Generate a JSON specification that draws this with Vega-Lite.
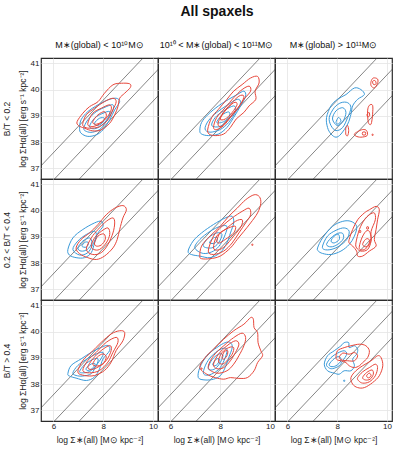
{
"$schema":"https://vega.github.io/schema/vega-lite/v6.json",
"padding":{"left":1,"top":5,"right":5,"bottom":4},
"title":{"text":"All spaxels","fontSize":14,"fontWeight":"bold","anchor":"middle","frame":"bounds","dx":20,"offset":21,"color":"#111"},
"datasets":{
"diag":[{"k":1,"x":4.5,"y":36.1},{"k":1,"x":10.5,"y":42.1},{"k":2,"x":5.5,"y":36.06},{"k":2,"x":11,"y":41.56},{"k":3,"x":6.5,"y":36.06},{"k":3,"x":12,"y":41.56}],
"cnt":[{"p":"TL","n":"105"},{"p":"TM","n":"91"},{"p":"TR","n":"8"},{"p":"ML","n":"86"},{"p":"MM","n":"109"},{"p":"MR","n":"43"},{"p":"BL","n":"140"},{"p":"BM","n":"302"},{"p":"BR","n":"153"}],
"cont":[
{"p":"TL","g":"b1","s":"b","x":7.05,"y":38.53},{"p":"TL","g":"b1","s":"b","x":7.11,"y":38.85},{"p":"TL","g":"b1","s":"b","x":7.38,"y":39.16},{"p":"TL","g":"b1","s":"b","x":7.79,"y":39.42},{"p":"TL","g":"b1","s":"b","x":8.19,"y":39.61},{"p":"TL","g":"b1","s":"b","x":8.52,"y":39.67},{"p":"TL","g":"b1","s":"b","x":8.66,"y":39.54},{"p":"TL","g":"b1","s":"b","x":8.46,"y":39.23},{"p":"TL","g":"b1","s":"b","x":8.26,"y":38.85},{"p":"TL","g":"b1","s":"b","x":7.99,"y":38.47},{"p":"TL","g":"b1","s":"b","x":7.72,"y":38.28},{"p":"TL","g":"b1","s":"b","x":7.38,"y":38.22},{"p":"TL","g":"b1","s":"b","x":7.11,"y":38.34},
{"p":"TL","g":"b2","s":"b","x":7.22,"y":38.53},{"p":"TL","g":"b2","s":"b","x":7.38,"y":38.85},{"p":"TL","g":"b2","s":"b","x":7.72,"y":39.16},{"p":"TL","g":"b2","s":"b","x":8.12,"y":39.35},{"p":"TL","g":"b2","s":"b","x":8.39,"y":39.42},{"p":"TL","g":"b2","s":"b","x":8.39,"y":39.23},{"p":"TL","g":"b2","s":"b","x":8.19,"y":38.91},{"p":"TL","g":"b2","s":"b","x":7.92,"y":38.53},{"p":"TL","g":"b2","s":"b","x":7.58,"y":38.38},{"p":"TL","g":"b2","s":"b","x":7.32,"y":38.41},
{"p":"TL","g":"b3","s":"b","x":7.45,"y":38.59},{"p":"TL","g":"b3","s":"b","x":7.65,"y":38.91},{"p":"TL","g":"b3","s":"b","x":7.99,"y":39.10},{"p":"TL","g":"b3","s":"b","x":8.26,"y":39.16},{"p":"TL","g":"b3","s":"b","x":8.19,"y":38.91},{"p":"TL","g":"b3","s":"b","x":7.92,"y":38.63},{"p":"TL","g":"b3","s":"b","x":7.65,"y":38.51},
{"p":"TL","g":"b4","s":"b","x":7.65,"y":38.72},{"p":"TL","g":"b4","s":"b","x":7.85,"y":38.91},{"p":"TL","g":"b4","s":"b","x":8.05,"y":38.91},{"p":"TL","g":"b4","s":"b","x":7.95,"y":38.72},{"p":"TL","g":"b4","s":"b","x":7.76,"y":38.63},
{"p":"TL","g":"r1","s":"r","x":6.95,"y":38.78},{"p":"TL","g":"r1","s":"r","x":7.18,"y":39.10},{"p":"TL","g":"r1","s":"r","x":7.45,"y":39.35},{"p":"TL","g":"r1","s":"r","x":7.79,"y":39.54},{"p":"TL","g":"r1","s":"r","x":8.05,"y":39.86},{"p":"TL","g":"r1","s":"r","x":8.39,"y":40.18},{"p":"TL","g":"r1","s":"r","x":8.73,"y":40.24},{"p":"TL","g":"r1","s":"r","x":9.06,"y":40.22},{"p":"TL","g":"r1","s":"r","x":9.09,"y":40.08},{"p":"TL","g":"r1","s":"r","x":8.86,"y":39.86},{"p":"TL","g":"r1","s":"r","x":8.66,"y":39.67},{"p":"TL","g":"r1","s":"r","x":8.59,"y":39.35},{"p":"TL","g":"r1","s":"r","x":8.46,"y":39.04},{"p":"TL","g":"r1","s":"r","x":8.26,"y":38.72},{"p":"TL","g":"r1","s":"r","x":7.92,"y":38.47},{"p":"TL","g":"r1","s":"r","x":7.58,"y":38.43},{"p":"TL","g":"r1","s":"r","x":7.25,"y":38.53},{"p":"TL","g":"r1","s":"r","x":7.01,"y":38.63},
{"p":"TL","g":"r2","s":"r","x":7.18,"y":38.72},{"p":"TL","g":"r2","s":"r","x":7.32,"y":39.04},{"p":"TL","g":"r2","s":"r","x":7.65,"y":39.29},{"p":"TL","g":"r2","s":"r","x":8.05,"y":39.54},{"p":"TL","g":"r2","s":"r","x":8.39,"y":39.67},{"p":"TL","g":"r2","s":"r","x":8.52,"y":39.54},{"p":"TL","g":"r2","s":"r","x":8.39,"y":39.23},{"p":"TL","g":"r2","s":"r","x":8.19,"y":38.85},{"p":"TL","g":"r2","s":"r","x":7.85,"y":38.59},{"p":"TL","g":"r2","s":"r","x":7.45,"y":38.53},{"p":"TL","g":"r2","s":"r","x":7.22,"y":38.59},
{"p":"TL","g":"r3","s":"r","x":7.38,"y":38.72},{"p":"TL","g":"r3","s":"r","x":7.58,"y":39.10},{"p":"TL","g":"r3","s":"r","x":7.92,"y":39.29},{"p":"TL","g":"r3","s":"r","x":8.26,"y":39.42},{"p":"TL","g":"r3","s":"r","x":8.32,"y":39.23},{"p":"TL","g":"r3","s":"r","x":8.12,"y":38.91},{"p":"TL","g":"r3","s":"r","x":7.79,"y":38.66},{"p":"TL","g":"r3","s":"r","x":7.49,"y":38.59},
{"p":"TL","g":"r4","s":"r","x":7.58,"y":38.78},{"p":"TL","g":"r4","s":"r","x":7.79,"y":39.04},{"p":"TL","g":"r4","s":"r","x":8.05,"y":39.16},{"p":"TL","g":"r4","s":"r","x":8.12,"y":38.97},{"p":"TL","g":"r4","s":"r","x":7.92,"y":38.76},{"p":"TL","g":"r4","s":"r","x":7.68,"y":38.68},

{"p":"TM","g":"b1","s":"b","x":7.18,"y":38.44},{"p":"TM","g":"b1","s":"b","x":7.25,"y":38.75},{"p":"TM","g":"b1","s":"b","x":7.52,"y":39.06},{"p":"TM","g":"b1","s":"b","x":7.93,"y":39.38},{"p":"TM","g":"b1","s":"b","x":8.34,"y":39.63},{"p":"TM","g":"b1","s":"b","x":8.68,"y":39.81},{"p":"TM","g":"b1","s":"b","x":8.95,"y":39.94},{"p":"TM","g":"b1","s":"b","x":9.02,"y":39.75},{"p":"TM","g":"b1","s":"b","x":8.82,"y":39.38},{"p":"TM","g":"b1","s":"b","x":8.54,"y":38.94},{"p":"TM","g":"b1","s":"b","x":8.27,"y":38.56},{"p":"TM","g":"b1","s":"b","x":7.93,"y":38.31},{"p":"TM","g":"b1","s":"b","x":7.52,"y":38.25},{"p":"TM","g":"b1","s":"b","x":7.25,"y":38.31},
{"p":"TM","g":"b2","s":"b","x":7.39,"y":38.50},{"p":"TM","g":"b2","s":"b","x":7.52,"y":38.81},{"p":"TM","g":"b2","s":"b","x":7.86,"y":39.13},{"p":"TM","g":"b2","s":"b","x":8.27,"y":39.40},{"p":"TM","g":"b2","s":"b","x":8.68,"y":39.63},{"p":"TM","g":"b2","s":"b","x":8.82,"y":39.50},{"p":"TM","g":"b2","s":"b","x":8.61,"y":39.13},{"p":"TM","g":"b2","s":"b","x":8.34,"y":38.75},{"p":"TM","g":"b2","s":"b","x":8.00,"y":38.48},{"p":"TM","g":"b2","s":"b","x":7.59,"y":38.38},
{"p":"TM","g":"b3","s":"b","x":7.66,"y":38.63},{"p":"TM","g":"b3","s":"b","x":7.80,"y":38.94},{"p":"TM","g":"b3","s":"b","x":8.14,"y":39.19},{"p":"TM","g":"b3","s":"b","x":8.54,"y":39.38},{"p":"TM","g":"b3","s":"b","x":8.61,"y":39.19},{"p":"TM","g":"b3","s":"b","x":8.34,"y":38.88},{"p":"TM","g":"b3","s":"b","x":8.00,"y":38.60},
{"p":"TM","g":"b4","s":"b","x":7.86,"y":38.75},{"p":"TM","g":"b4","s":"b","x":8.07,"y":39.03},{"p":"TM","g":"b4","s":"b","x":8.34,"y":39.15},{"p":"TM","g":"b4","s":"b","x":8.37,"y":38.98},{"p":"TM","g":"b4","s":"b","x":8.14,"y":38.78},
{"p":"TM","g":"r1","s":"r","x":7.50,"y":38.50},{"p":"TM","g":"r1","s":"r","x":7.66,"y":38.94},{"p":"TM","g":"r1","s":"r","x":7.93,"y":39.25},{"p":"TM","g":"r1","s":"r","x":8.27,"y":39.63},{"p":"TM","g":"r1","s":"r","x":8.54,"y":39.94},{"p":"TM","g":"r1","s":"r","x":8.88,"y":40.19},{"p":"TM","g":"r1","s":"r","x":9.22,"y":40.44},{"p":"TM","g":"r1","s":"r","x":9.50,"y":40.50},{"p":"TM","g":"r1","s":"r","x":9.56,"y":40.25},{"p":"TM","g":"r1","s":"r","x":9.40,"y":39.94},{"p":"TM","g":"r1","s":"r","x":9.43,"y":39.63},{"p":"TM","g":"r1","s":"r","x":9.16,"y":39.38},{"p":"TM","g":"r1","s":"r","x":8.95,"y":39.13},{"p":"TM","g":"r1","s":"r","x":8.64,"y":38.88},{"p":"TM","g":"r1","s":"r","x":8.41,"y":38.56},{"p":"TM","g":"r1","s":"r","x":8.14,"y":38.31},{"p":"TM","g":"r1","s":"r","x":7.80,"y":38.25},{"p":"TM","g":"r1","s":"r","x":7.55,"y":38.31},
{"p":"TM","g":"r2","s":"r","x":7.73,"y":38.56},{"p":"TM","g":"r2","s":"r","x":7.86,"y":38.94},{"p":"TM","g":"r2","s":"r","x":8.20,"y":39.31},{"p":"TM","g":"r2","s":"r","x":8.54,"y":39.69},{"p":"TM","g":"r2","s":"r","x":8.88,"y":40.00},{"p":"TM","g":"r2","s":"r","x":9.16,"y":40.13},{"p":"TM","g":"r2","s":"r","x":9.22,"y":39.94},{"p":"TM","g":"r2","s":"r","x":8.95,"y":39.63},{"p":"TM","g":"r2","s":"r","x":8.68,"y":39.25},{"p":"TM","g":"r2","s":"r","x":8.41,"y":38.94},{"p":"TM","g":"r2","s":"r","x":8.14,"y":38.63},{"p":"TM","g":"r2","s":"r","x":7.86,"y":38.48},
{"p":"TM","g":"r3","s":"r","x":7.91,"y":38.69},{"p":"TM","g":"r3","s":"r","x":8.07,"y":39.06},{"p":"TM","g":"r3","s":"r","x":8.41,"y":39.44},{"p":"TM","g":"r3","s":"r","x":8.75,"y":39.75},{"p":"TM","g":"r3","s":"r","x":8.95,"y":39.75},{"p":"TM","g":"r3","s":"r","x":8.82,"y":39.44},{"p":"TM","g":"r3","s":"r","x":8.54,"y":39.13},{"p":"TM","g":"r3","s":"r","x":8.27,"y":38.81},{"p":"TM","g":"r3","s":"r","x":8.04,"y":38.60},
{"p":"TM","g":"r4","s":"r","x":8.00,"y":38.88},{"p":"TM","g":"r4","s":"r","x":8.20,"y":39.19},{"p":"TM","g":"r4","s":"r","x":8.54,"y":39.50},{"p":"TM","g":"r4","s":"r","x":8.68,"y":39.44},{"p":"TM","g":"r4","s":"r","x":8.48,"y":39.13},{"p":"TM","g":"r4","s":"r","x":8.20,"y":38.88},

{"p":"TR","g":"b1","s":"b","x":7.57,"y":38.94},{"p":"TR","g":"b1","s":"b","x":7.75,"y":39.38},{"p":"TR","g":"b1","s":"b","x":8.01,"y":39.63},{"p":"TR","g":"b1","s":"b","x":8.35,"y":39.81},{"p":"TR","g":"b1","s":"b","x":8.69,"y":40.06},{"p":"TR","g":"b1","s":"b","x":8.95,"y":40.00},{"p":"TR","g":"b1","s":"b","x":9.09,"y":39.81},{"p":"TR","g":"b1","s":"b","x":8.82,"y":39.63},{"p":"TR","g":"b1","s":"b","x":8.62,"y":39.38},{"p":"TR","g":"b1","s":"b","x":8.55,"y":39.06},{"p":"TR","g":"b1","s":"b","x":8.42,"y":38.69},{"p":"TR","g":"b1","s":"b","x":8.15,"y":38.31},{"p":"TR","g":"b1","s":"b","x":7.95,"y":38.19},{"p":"TR","g":"b1","s":"b","x":7.75,"y":38.31},{"p":"TR","g":"b1","s":"b","x":7.61,"y":38.56},
{"p":"TR","g":"b2","s":"b","x":7.68,"y":38.94},{"p":"TR","g":"b2","s":"b","x":7.88,"y":39.31},{"p":"TR","g":"b2","s":"b","x":8.15,"y":39.50},{"p":"TR","g":"b2","s":"b","x":8.42,"y":39.50},{"p":"TR","g":"b2","s":"b","x":8.55,"y":39.31},{"p":"TR","g":"b2","s":"b","x":8.42,"y":38.94},{"p":"TR","g":"b2","s":"b","x":8.22,"y":38.56},{"p":"TR","g":"b2","s":"b","x":7.95,"y":38.44},{"p":"TR","g":"b2","s":"b","x":7.75,"y":38.63},
{"p":"TR","g":"b3","s":"b","x":7.81,"y":38.88},{"p":"TR","g":"b3","s":"b","x":7.95,"y":39.19},{"p":"TR","g":"b3","s":"b","x":8.22,"y":39.31},{"p":"TR","g":"b3","s":"b","x":8.35,"y":39.13},{"p":"TR","g":"b3","s":"b","x":8.24,"y":38.81},{"p":"TR","g":"b3","s":"b","x":8.01,"y":38.63},
{"p":"TR","g":"b4","s":"b","x":7.95,"y":38.75},{"p":"TR","g":"b4","s":"b","x":8.05,"y":38.94},{"p":"TR","g":"b4","s":"b","x":8.15,"y":38.81},{"p":"TR","g":"b4","s":"b","x":8.04,"y":38.69},
{"p":"TR","g":"r1","s":"r","x":9.36,"y":40.31},{"p":"TR","g":"r1","s":"r","x":9.45,"y":40.44},{"p":"TR","g":"r1","s":"r","x":9.62,"y":40.40},{"p":"TR","g":"r1","s":"r","x":9.62,"y":40.23},{"p":"TR","g":"r1","s":"r","x":9.49,"y":40.06},{"p":"TR","g":"r1","s":"r","x":9.36,"y":40.15},
{"p":"TR","g":"r2","s":"r","x":9.42,"y":40.31},{"p":"TR","g":"r2","s":"r","x":9.52,"y":40.34},{"p":"TR","g":"r2","s":"r","x":9.56,"y":40.22},{"p":"TR","g":"r2","s":"r","x":9.46,"y":40.19},
{"p":"TR","g":"r3","s":"r","x":9.22,"y":39.19},{"p":"TR","g":"r3","s":"r","x":9.29,"y":39.40},{"p":"TR","g":"r3","s":"r","x":9.42,"y":39.40},{"p":"TR","g":"r3","s":"r","x":9.42,"y":39.06},{"p":"TR","g":"r3","s":"r","x":9.36,"y":38.69},{"p":"TR","g":"r3","s":"r","x":9.25,"y":38.75},
{"p":"TR","g":"r4","s":"r","x":9.20,"y":39.06},{"p":"TR","g":"r4","s":"r","x":9.28,"y":39.13},{"p":"TR","g":"r4","s":"r","x":9.30,"y":39.00},{"p":"TR","g":"r4","s":"r","x":9.22,"y":38.97},
{"p":"TR","g":"r5","s":"r","x":8.35,"y":38.56},{"p":"TR","g":"r5","s":"r","x":8.42,"y":38.63},{"p":"TR","g":"r5","s":"r","x":8.46,"y":38.44},{"p":"TR","g":"r5","s":"r","x":8.42,"y":38.25},{"p":"TR","g":"r5","s":"r","x":8.35,"y":38.28},{"p":"TR","g":"r5","s":"r","x":8.34,"y":38.44},
{"p":"TR","g":"r6","s":"r","x":8.69,"y":38.31},{"p":"TR","g":"r6","s":"r","x":8.82,"y":38.40},{"p":"TR","g":"r6","s":"r","x":9.02,"y":38.48},{"p":"TR","g":"r6","s":"r","x":9.18,"y":38.44},{"p":"TR","g":"r6","s":"r","x":9.20,"y":38.25},{"p":"TR","g":"r6","s":"r","x":8.95,"y":38.19},{"p":"TR","g":"r6","s":"r","x":8.75,"y":38.23},
{"p":"TR","g":"r7","s":"r","x":9.02,"y":38.38},{"p":"TR","g":"r7","s":"r","x":9.13,"y":38.38},{"p":"TR","g":"r7","s":"r","x":9.13,"y":38.28},{"p":"TR","g":"r7","s":"r","x":9.02,"y":38.28},
{"p":"TR","g":"r8","s":"r","x":9.40,"y":38.30},{"p":"TR","g":"r8","s":"r","x":9.44,"y":38.30},{"p":"TR","g":"r8","s":"r","x":9.44,"y":38.26},{"p":"TR","g":"r8","s":"r","x":9.40,"y":38.26},

{"p":"ML","g":"b1","s":"b","x":6.58,"y":38.52},{"p":"ML","g":"b1","s":"b","x":6.78,"y":38.96},{"p":"ML","g":"b1","s":"b","x":7.18,"y":39.28},{"p":"ML","g":"b1","s":"b","x":7.65,"y":39.53},{"p":"ML","g":"b1","s":"b","x":7.92,"y":39.59},{"p":"ML","g":"b1","s":"b","x":7.99,"y":39.40},{"p":"ML","g":"b1","s":"b","x":7.79,"y":39.15},{"p":"ML","g":"b1","s":"b","x":7.65,"y":38.77},{"p":"ML","g":"b1","s":"b","x":7.52,"y":38.40},{"p":"ML","g":"b1","s":"b","x":7.25,"y":38.21},{"p":"ML","g":"b1","s":"b","x":6.91,"y":38.21},{"p":"ML","g":"b1","s":"b","x":6.64,"y":38.31},
{"p":"ML","g":"b2","s":"b","x":6.78,"y":38.52},{"p":"ML","g":"b2","s":"b","x":6.98,"y":38.84},{"p":"ML","g":"b2","s":"b","x":7.32,"y":39.09},{"p":"ML","g":"b2","s":"b","x":7.65,"y":39.21},{"p":"ML","g":"b2","s":"b","x":7.72,"y":39.03},{"p":"ML","g":"b2","s":"b","x":7.58,"y":38.71},{"p":"ML","g":"b2","s":"b","x":7.38,"y":38.40},{"p":"ML","g":"b2","s":"b","x":7.05,"y":38.31},
{"p":"ML","g":"b3","s":"b","x":6.98,"y":38.58},{"p":"ML","g":"b3","s":"b","x":7.18,"y":38.84},{"p":"ML","g":"b3","s":"b","x":7.45,"y":38.96},{"p":"ML","g":"b3","s":"b","x":7.54,"y":38.77},{"p":"ML","g":"b3","s":"b","x":7.36,"y":38.52},{"p":"ML","g":"b3","s":"b","x":7.11,"y":38.46},
{"p":"ML","g":"b4","s":"b","x":7.14,"y":38.65},{"p":"ML","g":"b4","s":"b","x":7.28,"y":38.80},{"p":"ML","g":"b4","s":"b","x":7.41,"y":38.77},{"p":"ML","g":"b4","s":"b","x":7.32,"y":38.61},
{"p":"ML","g":"r1","s":"r","x":6.91,"y":38.58},{"p":"ML","g":"r1","s":"r","x":7.11,"y":38.90},{"p":"ML","g":"r1","s":"r","x":7.45,"y":39.15},{"p":"ML","g":"r1","s":"r","x":7.79,"y":39.47},{"p":"ML","g":"r1","s":"r","x":8.12,"y":39.84},{"p":"ML","g":"r1","s":"r","x":8.46,"y":40.09},{"p":"ML","g":"r1","s":"r","x":8.79,"y":40.19},{"p":"ML","g":"r1","s":"r","x":8.93,"y":40.03},{"p":"ML","g":"r1","s":"r","x":8.79,"y":39.72},{"p":"ML","g":"r1","s":"r","x":8.66,"y":39.28},{"p":"ML","g":"r1","s":"r","x":8.56,"y":38.90},{"p":"ML","g":"r1","s":"r","x":8.39,"y":38.58},{"p":"ML","g":"r1","s":"r","x":8.05,"y":38.27},{"p":"ML","g":"r1","s":"r","x":7.72,"y":38.14},{"p":"ML","g":"r1","s":"r","x":7.38,"y":38.21},{"p":"ML","g":"r1","s":"r","x":7.05,"y":38.36},
{"p":"ML","g":"r2","s":"r","x":7.32,"y":38.52},{"p":"ML","g":"r2","s":"r","x":7.52,"y":38.96},{"p":"ML","g":"r2","s":"r","x":7.79,"y":39.28},{"p":"ML","g":"r2","s":"r","x":8.12,"y":39.59},{"p":"ML","g":"r2","s":"r","x":8.39,"y":39.72},{"p":"ML","g":"r2","s":"r","x":8.46,"y":39.53},{"p":"ML","g":"r2","s":"r","x":8.39,"y":39.15},{"p":"ML","g":"r2","s":"r","x":8.19,"y":38.71},{"p":"ML","g":"r2","s":"r","x":7.92,"y":38.40},{"p":"ML","g":"r2","s":"r","x":7.58,"y":38.33},
{"p":"ML","g":"r3","s":"r","x":7.52,"y":38.65},{"p":"ML","g":"r3","s":"r","x":7.65,"y":38.96},{"p":"ML","g":"r3","s":"r","x":7.92,"y":39.21},{"p":"ML","g":"r3","s":"r","x":8.19,"y":39.34},{"p":"ML","g":"r3","s":"r","x":8.26,"y":39.09},{"p":"ML","g":"r3","s":"r","x":8.12,"y":38.77},{"p":"ML","g":"r3","s":"r","x":7.85,"y":38.52},{"p":"ML","g":"r3","s":"r","x":7.62,"y":38.52},
{"p":"ML","g":"r4","s":"r","x":7.65,"y":38.77},{"p":"ML","g":"r4","s":"r","x":7.79,"y":39.03},{"p":"ML","g":"r4","s":"r","x":8.03,"y":39.11},{"p":"ML","g":"r4","s":"r","x":8.08,"y":38.90},{"p":"ML","g":"r4","s":"r","x":7.92,"y":38.69},{"p":"ML","g":"r4","s":"r","x":7.72,"y":38.65},

{"p":"MM","g":"b1","s":"b","x":6.71,"y":38.46},{"p":"MM","g":"b1","s":"b","x":6.91,"y":38.84},{"p":"MM","g":"b1","s":"b","x":7.25,"y":39.15},{"p":"MM","g":"b1","s":"b","x":7.73,"y":39.47},{"p":"MM","g":"b1","s":"b","x":8.20,"y":39.72},{"p":"MM","g":"b1","s":"b","x":8.48,"y":39.78},{"p":"MM","g":"b1","s":"b","x":8.54,"y":39.53},{"p":"MM","g":"b1","s":"b","x":8.41,"y":39.15},{"p":"MM","g":"b1","s":"b","x":8.27,"y":38.77},{"p":"MM","g":"b1","s":"b","x":8.00,"y":38.40},{"p":"MM","g":"b1","s":"b","x":7.59,"y":38.21},{"p":"MM","g":"b1","s":"b","x":7.18,"y":38.27},{"p":"MM","g":"b1","s":"b","x":6.84,"y":38.33},
{"p":"MM","g":"b2","s":"b","x":6.98,"y":38.58},{"p":"MM","g":"b2","s":"b","x":7.18,"y":38.90},{"p":"MM","g":"b2","s":"b","x":7.59,"y":39.21},{"p":"MM","g":"b2","s":"b","x":8.00,"y":39.40},{"p":"MM","g":"b2","s":"b","x":8.27,"y":39.40},{"p":"MM","g":"b2","s":"b","x":8.20,"y":39.09},{"p":"MM","g":"b2","s":"b","x":8.00,"y":38.71},{"p":"MM","g":"b2","s":"b","x":7.73,"y":38.46},{"p":"MM","g":"b2","s":"b","x":7.32,"y":38.37},
{"p":"MM","g":"b3","s":"b","x":7.32,"y":38.65},{"p":"MM","g":"b3","s":"b","x":7.52,"y":38.96},{"p":"MM","g":"b3","s":"b","x":7.86,"y":39.15},{"p":"MM","g":"b3","s":"b","x":8.07,"y":39.09},{"p":"MM","g":"b3","s":"b","x":7.93,"y":38.77},{"p":"MM","g":"b3","s":"b","x":7.66,"y":38.58},
{"p":"MM","g":"b4","s":"b","x":7.57,"y":38.77},{"p":"MM","g":"b4","s":"b","x":7.73,"y":38.96},{"p":"MM","g":"b4","s":"b","x":7.89,"y":38.96},{"p":"MM","g":"b4","s":"b","x":7.80,"y":38.77},
{"p":"MM","g":"r1","s":"r","x":7.18,"y":38.27},{"p":"MM","g":"r1","s":"r","x":7.25,"y":38.65},{"p":"MM","g":"r1","s":"r","x":7.59,"y":39.03},{"p":"MM","g":"r1","s":"r","x":8.00,"y":39.40},{"p":"MM","g":"r1","s":"r","x":8.34,"y":39.78},{"p":"MM","g":"r1","s":"r","x":8.68,"y":40.09},{"p":"MM","g":"r1","s":"r","x":9.02,"y":40.41},{"p":"MM","g":"r1","s":"r","x":9.36,"y":40.60},{"p":"MM","g":"r1","s":"r","x":9.57,"y":40.53},{"p":"MM","g":"r1","s":"r","x":9.63,"y":40.28},{"p":"MM","g":"r1","s":"r","x":9.50,"y":39.91},{"p":"MM","g":"r1","s":"r","x":9.22,"y":39.53},{"p":"MM","g":"r1","s":"r","x":8.95,"y":39.21},{"p":"MM","g":"r1","s":"r","x":8.68,"y":38.90},{"p":"MM","g":"r1","s":"r","x":8.41,"y":38.58},{"p":"MM","g":"r1","s":"r","x":8.00,"y":38.27},{"p":"MM","g":"r1","s":"r","x":7.59,"y":38.17},{"p":"MM","g":"r1","s":"r","x":7.25,"y":38.17},
{"p":"MM","g":"r2","s":"r","x":7.52,"y":38.46},{"p":"MM","g":"r2","s":"r","x":7.73,"y":39.03},{"p":"MM","g":"r2","s":"r","x":8.07,"y":39.40},{"p":"MM","g":"r2","s":"r","x":8.48,"y":39.72},{"p":"MM","g":"r2","s":"r","x":8.88,"y":39.97},{"p":"MM","g":"r2","s":"r","x":9.16,"y":40.09},{"p":"MM","g":"r2","s":"r","x":9.22,"y":39.84},{"p":"MM","g":"r2","s":"r","x":9.02,"y":39.53},{"p":"MM","g":"r2","s":"r","x":8.75,"y":39.15},{"p":"MM","g":"r2","s":"r","x":8.48,"y":38.77},{"p":"MM","g":"r2","s":"r","x":8.14,"y":38.46},{"p":"MM","g":"r2","s":"r","x":7.73,"y":38.33},
{"p":"MM","g":"r3","s":"r","x":7.73,"y":38.58},{"p":"MM","g":"r3","s":"r","x":7.86,"y":39.03},{"p":"MM","g":"r3","s":"r","x":8.20,"y":39.28},{"p":"MM","g":"r3","s":"r","x":8.61,"y":39.59},{"p":"MM","g":"r3","s":"r","x":8.88,"y":39.65},{"p":"MM","g":"r3","s":"r","x":8.84,"y":39.40},{"p":"MM","g":"r3","s":"r","x":8.54,"y":39.03},{"p":"MM","g":"r3","s":"r","x":8.20,"y":38.65},{"p":"MM","g":"r3","s":"r","x":7.91,"y":38.50},
{"p":"MM","g":"r4","s":"r","x":7.86,"y":38.84},{"p":"MM","g":"r4","s":"r","x":8.00,"y":39.15},{"p":"MM","g":"r4","s":"r","x":8.34,"y":39.34},{"p":"MM","g":"r4","s":"r","x":8.61,"y":39.40},{"p":"MM","g":"r4","s":"r","x":8.54,"y":39.15},{"p":"MM","g":"r4","s":"r","x":8.20,"y":38.90},{"p":"MM","g":"r4","s":"r","x":7.97,"y":38.77},
{"p":"MM","g":"r5","s":"r","x":9.27,"y":38.72},{"p":"MM","g":"r5","s":"r","x":9.31,"y":38.72},{"p":"MM","g":"r5","s":"r","x":9.31,"y":38.68},{"p":"MM","g":"r5","s":"r","x":9.27,"y":38.68},

{"p":"MR","g":"b1","s":"b","x":7.21,"y":38.58},{"p":"MR","g":"b1","s":"b","x":7.41,"y":38.96},{"p":"MR","g":"b1","s":"b","x":7.81,"y":39.40},{"p":"MR","g":"b1","s":"b","x":8.22,"y":39.59},{"p":"MR","g":"b1","s":"b","x":8.55,"y":39.59},{"p":"MR","g":"b1","s":"b","x":8.78,"y":39.40},{"p":"MR","g":"b1","s":"b","x":8.69,"y":39.03},{"p":"MR","g":"b1","s":"b","x":8.48,"y":38.71},{"p":"MR","g":"b1","s":"b","x":8.15,"y":38.46},{"p":"MR","g":"b1","s":"b","x":7.75,"y":38.33},{"p":"MR","g":"b1","s":"b","x":7.41,"y":38.37},{"p":"MR","g":"b1","s":"b","x":7.24,"y":38.46},
{"p":"MR","g":"b2","s":"b","x":7.41,"y":38.65},{"p":"MR","g":"b2","s":"b","x":7.61,"y":39.03},{"p":"MR","g":"b2","s":"b","x":7.95,"y":39.25},{"p":"MR","g":"b2","s":"b","x":8.28,"y":39.34},{"p":"MR","g":"b2","s":"b","x":8.48,"y":39.21},{"p":"MR","g":"b2","s":"b","x":8.38,"y":38.90},{"p":"MR","g":"b2","s":"b","x":8.08,"y":38.65},{"p":"MR","g":"b2","s":"b","x":7.75,"y":38.52},{"p":"MR","g":"b2","s":"b","x":7.48,"y":38.52},
{"p":"MR","g":"b3","s":"b","x":7.57,"y":38.71},{"p":"MR","g":"b3","s":"b","x":7.75,"y":38.96},{"p":"MR","g":"b3","s":"b","x":8.01,"y":39.13},{"p":"MR","g":"b3","s":"b","x":8.22,"y":39.13},{"p":"MR","g":"b3","s":"b","x":8.24,"y":38.92},{"p":"MR","g":"b3","s":"b","x":8.01,"y":38.71},{"p":"MR","g":"b3","s":"b","x":7.75,"y":38.62},
{"p":"MR","g":"b4","s":"b","x":7.75,"y":38.84},{"p":"MR","g":"b4","s":"b","x":7.88,"y":39.03},{"p":"MR","g":"b4","s":"b","x":8.05,"y":39.09},{"p":"MR","g":"b4","s":"b","x":8.08,"y":38.90},{"p":"MR","g":"b4","s":"b","x":7.88,"y":38.77},
{"p":"MR","g":"r1","s":"r","x":8.48,"y":38.90},{"p":"MR","g":"r1","s":"r","x":8.62,"y":39.28},{"p":"MR","g":"r1","s":"r","x":8.82,"y":39.65},{"p":"MR","g":"r1","s":"r","x":9.09,"y":39.91},{"p":"MR","g":"r1","s":"r","x":9.29,"y":40.03},{"p":"MR","g":"r1","s":"r","x":9.56,"y":40.16},{"p":"MR","g":"r1","s":"r","x":9.69,"y":40.03},{"p":"MR","g":"r1","s":"r","x":9.62,"y":39.65},{"p":"MR","g":"r1","s":"r","x":9.56,"y":39.28},{"p":"MR","g":"r1","s":"r","x":9.49,"y":38.90},{"p":"MR","g":"r1","s":"r","x":9.56,"y":38.65},{"p":"MR","g":"r1","s":"r","x":9.29,"y":38.46},{"p":"MR","g":"r1","s":"r","x":9.02,"y":38.27},{"p":"MR","g":"r1","s":"r","x":8.82,"y":38.27},{"p":"MR","g":"r1","s":"r","x":8.78,"y":38.46},{"p":"MR","g":"r1","s":"r","x":8.62,"y":38.65},{"p":"MR","g":"r1","s":"r","x":8.48,"y":38.77},
{"p":"MR","g":"r2","s":"r","x":8.75,"y":38.77},{"p":"MR","g":"r2","s":"r","x":8.89,"y":39.28},{"p":"MR","g":"r2","s":"r","x":9.09,"y":39.65},{"p":"MR","g":"r2","s":"r","x":9.29,"y":39.84},{"p":"MR","g":"r2","s":"r","x":9.49,"y":39.91},{"p":"MR","g":"r2","s":"r","x":9.53,"y":39.65},{"p":"MR","g":"r2","s":"r","x":9.36,"y":39.21},{"p":"MR","g":"r2","s":"r","x":9.36,"y":38.84},{"p":"MR","g":"r2","s":"r","x":9.22,"y":38.52},{"p":"MR","g":"r2","s":"r","x":8.95,"y":38.46},{"p":"MR","g":"r2","s":"r","x":8.78,"y":38.58},
{"p":"MR","g":"r3","s":"r","x":8.89,"y":38.65},{"p":"MR","g":"r3","s":"r","x":8.99,"y":38.96},{"p":"MR","g":"r3","s":"r","x":9.15,"y":39.21},{"p":"MR","g":"r3","s":"r","x":9.29,"y":39.21},{"p":"MR","g":"r3","s":"r","x":9.36,"y":38.96},{"p":"MR","g":"r3","s":"r","x":9.29,"y":38.71},{"p":"MR","g":"r3","s":"r","x":9.09,"y":38.52},{"p":"MR","g":"r3","s":"r","x":8.91,"y":38.52},
{"p":"MR","g":"r4","s":"r","x":9.02,"y":38.71},{"p":"MR","g":"r4","s":"r","x":9.13,"y":38.90},{"p":"MR","g":"r4","s":"r","x":9.26,"y":38.92},{"p":"MR","g":"r4","s":"r","x":9.29,"y":38.77},{"p":"MR","g":"r4","s":"r","x":9.15,"y":38.62},
{"p":"MR","g":"r5","s":"r","x":9.19,"y":39.38},{"p":"MR","g":"r5","s":"r","x":9.25,"y":39.38},{"p":"MR","g":"r5","s":"r","x":9.25,"y":39.30},{"p":"MR","g":"r5","s":"r","x":9.19,"y":39.30},
{"p":"MR","g":"r6","s":"r","x":8.89,"y":39.24},{"p":"MR","g":"r6","s":"r","x":8.94,"y":39.24},{"p":"MR","g":"r6","s":"r","x":8.94,"y":39.17},{"p":"MR","g":"r6","s":"r","x":8.89,"y":39.17},

{"p":"BL","g":"b1","s":"b","x":6.58,"y":38.40},{"p":"BL","g":"b1","s":"b","x":6.71,"y":38.71},{"p":"BL","g":"b1","s":"b","x":7.11,"y":38.96},{"p":"BL","g":"b1","s":"b","x":7.52,"y":39.21},{"p":"BL","g":"b1","s":"b","x":7.92,"y":39.40},{"p":"BL","g":"b1","s":"b","x":8.19,"y":39.47},{"p":"BL","g":"b1","s":"b","x":8.26,"y":39.28},{"p":"BL","g":"b1","s":"b","x":7.99,"y":38.96},{"p":"BL","g":"b1","s":"b","x":7.85,"y":38.58},{"p":"BL","g":"b1","s":"b","x":7.65,"y":38.27},{"p":"BL","g":"b1","s":"b","x":7.32,"y":38.14},{"p":"BL","g":"b1","s":"b","x":6.91,"y":38.23},{"p":"BL","g":"b1","s":"b","x":6.64,"y":38.31},
{"p":"BL","g":"b2","s":"b","x":6.78,"y":38.43},{"p":"BL","g":"b2","s":"b","x":6.98,"y":38.71},{"p":"BL","g":"b2","s":"b","x":7.32,"y":38.94},{"p":"BL","g":"b2","s":"b","x":7.72,"y":39.15},{"p":"BL","g":"b2","s":"b","x":7.99,"y":39.21},{"p":"BL","g":"b2","s":"b","x":7.95,"y":39.03},{"p":"BL","g":"b2","s":"b","x":7.72,"y":38.71},{"p":"BL","g":"b2","s":"b","x":7.52,"y":38.40},{"p":"BL","g":"b2","s":"b","x":7.18,"y":38.31},{"p":"BL","g":"b2","s":"b","x":6.91,"y":38.33},
{"p":"BL","g":"b3","s":"b","x":7.05,"y":38.48},{"p":"BL","g":"b3","s":"b","x":7.25,"y":38.74},{"p":"BL","g":"b3","s":"b","x":7.58,"y":38.94},{"p":"BL","g":"b3","s":"b","x":7.79,"y":38.96},{"p":"BL","g":"b3","s":"b","x":7.72,"y":38.71},{"p":"BL","g":"b3","s":"b","x":7.45,"y":38.48},{"p":"BL","g":"b3","s":"b","x":7.18,"y":38.43},
{"p":"BL","g":"b4","s":"b","x":7.32,"y":38.61},{"p":"BL","g":"b4","s":"b","x":7.52,"y":38.77},{"p":"BL","g":"b4","s":"b","x":7.68,"y":38.77},{"p":"BL","g":"b4","s":"b","x":7.54,"y":38.58},{"p":"BL","g":"b4","s":"b","x":7.36,"y":38.52},
{"p":"BL","g":"r1","s":"r","x":6.98,"y":38.46},{"p":"BL","g":"r1","s":"r","x":7.18,"y":38.90},{"p":"BL","g":"r1","s":"r","x":7.52,"y":39.21},{"p":"BL","g":"r1","s":"r","x":7.92,"y":39.59},{"p":"BL","g":"r1","s":"r","x":8.32,"y":39.91},{"p":"BL","g":"r1","s":"r","x":8.66,"y":40.03},{"p":"BL","g":"r1","s":"r","x":8.86,"y":39.97},{"p":"BL","g":"r1","s":"r","x":8.79,"y":39.65},{"p":"BL","g":"r1","s":"r","x":8.52,"y":39.28},{"p":"BL","g":"r1","s":"r","x":8.32,"y":38.84},{"p":"BL","g":"r1","s":"r","x":8.05,"y":38.52},{"p":"BL","g":"r1","s":"r","x":7.65,"y":38.33},{"p":"BL","g":"r1","s":"r","x":7.25,"y":38.33},
{"p":"BL","g":"r2","s":"r","x":7.18,"y":38.52},{"p":"BL","g":"r2","s":"r","x":7.38,"y":38.90},{"p":"BL","g":"r2","s":"r","x":7.72,"y":39.21},{"p":"BL","g":"r2","s":"r","x":8.12,"y":39.59},{"p":"BL","g":"r2","s":"r","x":8.52,"y":39.78},{"p":"BL","g":"r2","s":"r","x":8.59,"y":39.59},{"p":"BL","g":"r2","s":"r","x":8.39,"y":39.21},{"p":"BL","g":"r2","s":"r","x":8.19,"y":38.84},{"p":"BL","g":"r2","s":"r","x":7.85,"y":38.52},{"p":"BL","g":"r2","s":"r","x":7.45,"y":38.43},
{"p":"BL","g":"r3","s":"r","x":7.38,"y":38.65},{"p":"BL","g":"r3","s":"r","x":7.58,"y":38.96},{"p":"BL","g":"r3","s":"r","x":7.92,"y":39.28},{"p":"BL","g":"r3","s":"r","x":8.26,"y":39.47},{"p":"BL","g":"r3","s":"r","x":8.32,"y":39.28},{"p":"BL","g":"r3","s":"r","x":8.12,"y":38.90},{"p":"BL","g":"r3","s":"r","x":7.79,"y":38.65},{"p":"BL","g":"r3","s":"r","x":7.52,"y":38.56},
{"p":"BL","g":"r4","s":"r","x":7.58,"y":38.77},{"p":"BL","g":"r4","s":"r","x":7.76,"y":39.03},{"p":"BL","g":"r4","s":"r","x":7.99,"y":39.15},{"p":"BL","g":"r4","s":"r","x":8.12,"y":39.03},{"p":"BL","g":"r4","s":"r","x":7.99,"y":38.77},{"p":"BL","g":"r4","s":"r","x":7.72,"y":38.69},

{"p":"BM","g":"b1","s":"b","x":7.12,"y":38.25},{"p":"BM","g":"b1","s":"b","x":7.18,"y":38.63},{"p":"BM","g":"b1","s":"b","x":7.46,"y":39.08},{"p":"BM","g":"b1","s":"b","x":7.86,"y":39.39},{"p":"BM","g":"b1","s":"b","x":8.20,"y":39.58},{"p":"BM","g":"b1","s":"b","x":8.41,"y":39.58},{"p":"BM","g":"b1","s":"b","x":8.48,"y":39.39},{"p":"BM","g":"b1","s":"b","x":8.34,"y":39.01},{"p":"BM","g":"b1","s":"b","x":8.20,"y":38.63},{"p":"BM","g":"b1","s":"b","x":8.00,"y":38.32},{"p":"BM","g":"b1","s":"b","x":7.73,"y":38.19},{"p":"BM","g":"b1","s":"b","x":7.39,"y":38.16},
{"p":"BM","g":"b2","s":"b","x":7.32,"y":38.44},{"p":"BM","g":"b2","s":"b","x":7.46,"y":38.82},{"p":"BM","g":"b2","s":"b","x":7.73,"y":39.14},{"p":"BM","g":"b2","s":"b","x":8.07,"y":39.35},{"p":"BM","g":"b2","s":"b","x":8.27,"y":39.33},{"p":"BM","g":"b2","s":"b","x":8.20,"y":39.01},{"p":"BM","g":"b2","s":"b","x":8.00,"y":38.63},{"p":"BM","g":"b2","s":"b","x":7.73,"y":38.42},{"p":"BM","g":"b2","s":"b","x":7.46,"y":38.34},
{"p":"BM","g":"b3","s":"b","x":7.52,"y":38.63},{"p":"BM","g":"b3","s":"b","x":7.66,"y":38.92},{"p":"BM","g":"b3","s":"b","x":7.93,"y":39.14},{"p":"BM","g":"b3","s":"b","x":8.11,"y":39.10},{"p":"BM","g":"b3","s":"b","x":8.00,"y":38.82},{"p":"BM","g":"b3","s":"b","x":7.80,"y":38.59},{"p":"BM","g":"b3","s":"b","x":7.59,"y":38.54},
{"p":"BM","g":"b4","s":"b","x":7.70,"y":38.76},{"p":"BM","g":"b4","s":"b","x":7.84,"y":38.95},{"p":"BM","g":"b4","s":"b","x":7.97,"y":38.95},{"p":"BM","g":"b4","s":"b","x":7.89,"y":38.76},{"p":"BM","g":"b4","s":"b","x":7.76,"y":38.70},
{"p":"BM","g":"r1","s":"r","x":7.18,"y":38.63},{"p":"BM","g":"r1","s":"r","x":7.39,"y":39.01},{"p":"BM","g":"r1","s":"r","x":7.73,"y":39.33},{"p":"BM","g":"r1","s":"r","x":8.14,"y":39.71},{"p":"BM","g":"r1","s":"r","x":8.54,"y":40.03},{"p":"BM","g":"r1","s":"r","x":8.95,"y":40.28},{"p":"BM","g":"r1","s":"r","x":9.22,"y":40.53},{"p":"BM","g":"r1","s":"r","x":9.33,"y":40.47},{"p":"BM","g":"r1","s":"r","x":9.36,"y":40.15},{"p":"BM","g":"r1","s":"r","x":9.50,"y":39.96},{"p":"BM","g":"r1","s":"r","x":9.52,"y":39.58},{"p":"BM","g":"r1","s":"r","x":9.63,"y":39.27},{"p":"BM","g":"r1","s":"r","x":9.70,"y":39.08},{"p":"BM","g":"r1","s":"r","x":9.50,"y":38.82},{"p":"BM","g":"r1","s":"r","x":9.36,"y":38.51},{"p":"BM","g":"r1","s":"r","x":9.09,"y":38.25},{"p":"BM","g":"r1","s":"r","x":8.75,"y":38.22},{"p":"BM","g":"r1","s":"r","x":8.41,"y":38.25},{"p":"BM","g":"r1","s":"r","x":8.14,"y":38.19},{"p":"BM","g":"r1","s":"r","x":7.80,"y":38.25},{"p":"BM","g":"r1","s":"r","x":7.46,"y":38.38},
{"p":"BM","g":"r2","s":"r","x":7.52,"y":38.63},{"p":"BM","g":"r2","s":"r","x":7.73,"y":39.08},{"p":"BM","g":"r2","s":"r","x":8.14,"y":39.46},{"p":"BM","g":"r2","s":"r","x":8.54,"y":39.77},{"p":"BM","g":"r2","s":"r","x":8.88,"y":39.94},{"p":"BM","g":"r2","s":"r","x":9.02,"y":39.77},{"p":"BM","g":"r2","s":"r","x":8.95,"y":39.46},{"p":"BM","g":"r2","s":"r","x":8.75,"y":39.08},{"p":"BM","g":"r2","s":"r","x":8.54,"y":38.76},{"p":"BM","g":"r2","s":"r","x":8.27,"y":38.51},{"p":"BM","g":"r2","s":"r","x":7.86,"y":38.42},
{"p":"BM","g":"r3","s":"r","x":7.73,"y":38.76},{"p":"BM","g":"r3","s":"r","x":7.93,"y":39.14},{"p":"BM","g":"r3","s":"r","x":8.27,"y":39.46},{"p":"BM","g":"r3","s":"r","x":8.61,"y":39.65},{"p":"BM","g":"r3","s":"r","x":8.75,"y":39.52},{"p":"BM","g":"r3","s":"r","x":8.61,"y":39.20},{"p":"BM","g":"r3","s":"r","x":8.41,"y":38.89},{"p":"BM","g":"r3","s":"r","x":8.14,"y":38.63},{"p":"BM","g":"r3","s":"r","x":7.86,"y":38.59},
{"p":"BM","g":"r4","s":"r","x":7.93,"y":38.89},{"p":"BM","g":"r4","s":"r","x":8.07,"y":39.20},{"p":"BM","g":"r4","s":"r","x":8.34,"y":39.39},{"p":"BM","g":"r4","s":"r","x":8.54,"y":39.39},{"p":"BM","g":"r4","s":"r","x":8.48,"y":39.14},{"p":"BM","g":"r4","s":"r","x":8.27,"y":38.89},{"p":"BM","g":"r4","s":"r","x":8.07,"y":38.76},
{"p":"BM","g":"r5","s":"r","x":8.07,"y":39.01},{"p":"BM","g":"r5","s":"r","x":8.16,"y":39.23},{"p":"BM","g":"r5","s":"r","x":8.30,"y":39.27},{"p":"BM","g":"r5","s":"r","x":8.27,"y":39.08},{"p":"BM","g":"r5","s":"r","x":8.14,"y":38.95},
{"p":"BM","g":"r6","s":"r","x":7.23,"y":38.61},{"p":"BM","g":"r6","s":"r","x":7.27,"y":38.61},{"p":"BM","g":"r6","s":"r","x":7.27,"y":38.57},{"p":"BM","g":"r6","s":"r","x":7.23,"y":38.57},

{"p":"BR","g":"b1","s":"b","x":7.48,"y":38.76},{"p":"BR","g":"b1","s":"b","x":7.61,"y":39.08},{"p":"BR","g":"b1","s":"b","x":7.88,"y":39.27},{"p":"BR","g":"b1","s":"b","x":8.15,"y":39.46},{"p":"BR","g":"b1","s":"b","x":8.28,"y":39.58},{"p":"BR","g":"b1","s":"b","x":8.46,"y":39.58},{"p":"BR","g":"b1","s":"b","x":8.48,"y":39.39},{"p":"BR","g":"b1","s":"b","x":8.69,"y":39.46},{"p":"BR","g":"b1","s":"b","x":8.82,"y":39.33},{"p":"BR","g":"b1","s":"b","x":8.78,"y":39.14},{"p":"BR","g":"b1","s":"b","x":8.62,"y":38.95},{"p":"BR","g":"b1","s":"b","x":8.69,"y":38.70},{"p":"BR","g":"b1","s":"b","x":8.55,"y":38.51},{"p":"BR","g":"b1","s":"b","x":8.28,"y":38.51},{"p":"BR","g":"b1","s":"b","x":8.08,"y":38.38},{"p":"BR","g":"b1","s":"b","x":7.88,"y":38.42},{"p":"BR","g":"b1","s":"b","x":7.61,"y":38.51},
{"p":"BR","g":"b2","s":"b","x":7.57,"y":38.76},{"p":"BR","g":"b2","s":"b","x":7.75,"y":39.01},{"p":"BR","g":"b2","s":"b","x":8.01,"y":39.18},{"p":"BR","g":"b2","s":"b","x":8.28,"y":39.27},{"p":"BR","g":"b2","s":"b","x":8.38,"y":39.14},{"p":"BR","g":"b2","s":"b","x":8.22,"y":38.89},{"p":"BR","g":"b2","s":"b","x":8.08,"y":38.70},{"p":"BR","g":"b2","s":"b","x":7.81,"y":38.59},{"p":"BR","g":"b2","s":"b","x":7.65,"y":38.63},
{"p":"BR","g":"b3","s":"b","x":7.68,"y":38.76},{"p":"BR","g":"b3","s":"b","x":7.88,"y":38.97},{"p":"BR","g":"b3","s":"b","x":8.08,"y":39.05},{"p":"BR","g":"b3","s":"b","x":8.15,"y":38.89},{"p":"BR","g":"b3","s":"b","x":7.95,"y":38.70},{"p":"BR","g":"b3","s":"b","x":7.75,"y":38.67},
{"p":"BR","g":"b4","s":"b","x":8.26,"y":38.15},{"p":"BR","g":"b4","s":"b","x":8.30,"y":38.15},{"p":"BR","g":"b4","s":"b","x":8.30,"y":38.11},{"p":"BR","g":"b4","s":"b","x":8.26,"y":38.11},
{"p":"BR","g":"r1","s":"r","x":7.95,"y":39.01},{"p":"BR","g":"r1","s":"r","x":8.01,"y":39.27},{"p":"BR","g":"r1","s":"r","x":8.28,"y":39.39},{"p":"BR","g":"r1","s":"r","x":8.55,"y":39.46},{"p":"BR","g":"r1","s":"r","x":8.89,"y":39.52},{"p":"BR","g":"r1","s":"r","x":9.15,"y":39.46},{"p":"BR","g":"r1","s":"r","x":9.29,"y":39.27},{"p":"BR","g":"r1","s":"r","x":9.22,"y":39.01},{"p":"BR","g":"r1","s":"r","x":9.02,"y":38.82},{"p":"BR","g":"r1","s":"r","x":8.89,"y":38.70},{"p":"BR","g":"r1","s":"r","x":8.69,"y":38.63},{"p":"BR","g":"r1","s":"r","x":8.48,"y":38.70},{"p":"BR","g":"r1","s":"r","x":8.35,"y":38.82},{"p":"BR","g":"r1","s":"r","x":8.15,"y":38.89},{"p":"BR","g":"r1","s":"r","x":8.01,"y":38.92},
{"p":"BR","g":"r2","s":"r","x":8.08,"y":39.01},{"p":"BR","g":"r2","s":"r","x":8.22,"y":39.18},{"p":"BR","g":"r2","s":"r","x":8.48,"y":39.14},{"p":"BR","g":"r2","s":"r","x":8.69,"y":39.20},{"p":"BR","g":"r2","s":"r","x":8.82,"y":39.08},{"p":"BR","g":"r2","s":"r","x":8.69,"y":38.89},{"p":"BR","g":"r2","s":"r","x":8.42,"y":38.89},{"p":"BR","g":"r2","s":"r","x":8.22,"y":38.91},
{"p":"BR","g":"r3","s":"r","x":8.55,"y":38.25},{"p":"BR","g":"r3","s":"r","x":8.75,"y":38.51},{"p":"BR","g":"r3","s":"r","x":9.02,"y":38.70},{"p":"BR","g":"r3","s":"r","x":9.36,"y":38.89},{"p":"BR","g":"r3","s":"r","x":9.62,"y":39.08},{"p":"BR","g":"r3","s":"r","x":9.76,"y":39.01},{"p":"BR","g":"r3","s":"r","x":9.83,"y":38.70},{"p":"BR","g":"r3","s":"r","x":9.69,"y":38.32},{"p":"BR","g":"r3","s":"r","x":9.42,"y":38.06},{"p":"BR","g":"r3","s":"r","x":9.09,"y":37.87},{"p":"BR","g":"r3","s":"r","x":8.82,"y":37.87},{"p":"BR","g":"r3","s":"r","x":8.62,"y":38.00},
{"p":"BR","g":"r4","s":"r","x":8.82,"y":38.25},{"p":"BR","g":"r4","s":"r","x":9.02,"y":38.47},{"p":"BR","g":"r4","s":"r","x":9.29,"y":38.63},{"p":"BR","g":"r4","s":"r","x":9.53,"y":38.76},{"p":"BR","g":"r4","s":"r","x":9.62,"y":38.63},{"p":"BR","g":"r4","s":"r","x":9.53,"y":38.32},{"p":"BR","g":"r4","s":"r","x":9.29,"y":38.09},{"p":"BR","g":"r4","s":"r","x":9.02,"y":38.04},{"p":"BR","g":"r4","s":"r","x":8.86,"y":38.13},
{"p":"BR","g":"r5","s":"r","x":9.02,"y":38.25},{"p":"BR","g":"r5","s":"r","x":9.18,"y":38.44},{"p":"BR","g":"r5","s":"r","x":9.40,"y":38.54},{"p":"BR","g":"r5","s":"r","x":9.45,"y":38.38},{"p":"BR","g":"r5","s":"r","x":9.32,"y":38.19},{"p":"BR","g":"r5","s":"r","x":9.13,"y":38.16},
{"p":"BR","g":"r6","s":"r","x":9.18,"y":38.32},{"p":"BR","g":"r6","s":"r","x":9.29,"y":38.42},{"p":"BR","g":"r6","s":"r","x":9.36,"y":38.32},{"p":"BR","g":"r6","s":"r","x":9.25,"y":38.24}
]},
"columns":3,"spacing":0,"bounds":"flush",
"concat":[
{"width":117,"height":121,"title":{"text":"M∗(global) < 10¹⁰M⊙"},
 "encoding":{"x":{"field":"x","type":"quantitative","scale":{"domain":[5.5,10.2],"nice":false,"zero":false},"axis":{"values":[6,8,10],"labels":false,"title":null}},
  "y":{"field":"y","type":"quantitative","scale":{"domain":[36.6,41.2],"nice":false,"zero":false},"axis":{"values":[37,38,39,40,41],"title":["B/T  <  0.2","log ΣHα(all) [erg s⁻¹ kpc⁻²]"]}}},
 "layer":[
  {"data":{"name":"diag"},"mark":{"type":"line","clip":true,"color":"#333","strokeWidth":0.6},"encoding":{"detail":{"field":"k","type":"nominal"}}},
  {"data":{"name":"cont"},"transform":[{"filter":"datum.p==='TL'"}],"mark":{"type":"line","clip":true,"strokeWidth":1,"interpolate":"cardinal-closed"},"encoding":{"detail":{"field":"g","type":"nominal"},"order":{"value":null},"color":{"field":"s","type":"nominal","scale":{"domain":["b","r"],"range":["#3a9ad9","#e8463a"]},"legend":null}}},
  {"data":{"name":"cnt"},"transform":[{"filter":"datum.p==='TL'"}],"mark":{"type":"text","align":"left","baseline":"middle","fontSize":8.5,"color":"#222"},"encoding":{"x":{"datum":6.2},"y":{"datum":40.35},"text":{"field":"n"}}}
 ]},
{"width":117,"height":121,"title":{"text":"10¹⁰ < M∗(global) < 10¹¹M⊙"},
 "encoding":{"x":{"field":"x","type":"quantitative","scale":{"domain":[5.5,10.2],"nice":false,"zero":false},"axis":{"values":[6,8,10],"labels":false,"title":null}},
  "y":{"field":"y","type":"quantitative","scale":{"domain":[36.6,41.2],"nice":false,"zero":false},"axis":{"values":[37,38,39,40,41],"labels":false,"title":null}}},
 "layer":[
  {"data":{"name":"diag"},"mark":{"type":"line","clip":true,"color":"#333","strokeWidth":0.6},"encoding":{"detail":{"field":"k","type":"nominal"}}},
  {"data":{"name":"cont"},"transform":[{"filter":"datum.p==='TM'"}],"mark":{"type":"line","clip":true,"strokeWidth":1,"interpolate":"cardinal-closed"},"encoding":{"detail":{"field":"g","type":"nominal"},"order":{"value":null},"color":{"field":"s","type":"nominal","scale":{"domain":["b","r"],"range":["#3a9ad9","#e8463a"]},"legend":null}}},
  {"data":{"name":"cnt"},"transform":[{"filter":"datum.p==='TM'"}],"mark":{"type":"text","align":"left","baseline":"middle","fontSize":8.5,"color":"#222"},"encoding":{"x":{"datum":6.2},"y":{"datum":40.35},"text":{"field":"n"}}}
 ]},
{"width":117,"height":121,"title":{"text":"M∗(global) >  10¹¹M⊙"},
 "encoding":{"x":{"field":"x","type":"quantitative","scale":{"domain":[5.5,10.2],"nice":false,"zero":false},"axis":{"values":[6,8,10],"labels":false,"title":null}},
  "y":{"field":"y","type":"quantitative","scale":{"domain":[36.6,41.2],"nice":false,"zero":false},"axis":{"values":[37,38,39,40,41],"labels":false,"title":null}}},
 "layer":[
  {"data":{"name":"diag"},"mark":{"type":"line","clip":true,"color":"#333","strokeWidth":0.6},"encoding":{"detail":{"field":"k","type":"nominal"}}},
  {"data":{"name":"cont"},"transform":[{"filter":"datum.p==='TR'"}],"mark":{"type":"line","clip":true,"strokeWidth":1,"interpolate":"cardinal-closed"},"encoding":{"detail":{"field":"g","type":"nominal"},"order":{"value":null},"color":{"field":"s","type":"nominal","scale":{"domain":["b","r"],"range":["#3a9ad9","#e8463a"]},"legend":null}}},
  {"data":{"name":"cnt"},"transform":[{"filter":"datum.p==='TR'"}],"mark":{"type":"text","align":"left","baseline":"middle","fontSize":8.5,"color":"#222"},"encoding":{"x":{"datum":6.2},"y":{"datum":40.35},"text":{"field":"n"}}}
 ]},
{"width":117,"height":121,
 "encoding":{"x":{"field":"x","type":"quantitative","scale":{"domain":[5.5,10.2],"nice":false,"zero":false},"axis":{"values":[6,8,10],"labels":false,"title":null}},
  "y":{"field":"y","type":"quantitative","scale":{"domain":[36.6,41.2],"nice":false,"zero":false},"axis":{"values":[37,38,39,40,41],"title":["0.2  <  B/T  <  0.4","log ΣHα(all) [erg s⁻¹ kpc⁻²]"]}}},
 "layer":[
  {"data":{"name":"diag"},"mark":{"type":"line","clip":true,"color":"#333","strokeWidth":0.6},"encoding":{"detail":{"field":"k","type":"nominal"}}},
  {"data":{"name":"cont"},"transform":[{"filter":"datum.p==='ML'"}],"mark":{"type":"line","clip":true,"strokeWidth":1,"interpolate":"cardinal-closed"},"encoding":{"detail":{"field":"g","type":"nominal"},"order":{"value":null},"color":{"field":"s","type":"nominal","scale":{"domain":["b","r"],"range":["#3a9ad9","#e8463a"]},"legend":null}}},
  {"data":{"name":"cnt"},"transform":[{"filter":"datum.p==='ML'"}],"mark":{"type":"text","align":"left","baseline":"middle","fontSize":8.5,"color":"#222"},"encoding":{"x":{"datum":6.2},"y":{"datum":40.35},"text":{"field":"n"}}}
 ]},
{"width":117,"height":121,
 "encoding":{"x":{"field":"x","type":"quantitative","scale":{"domain":[5.5,10.2],"nice":false,"zero":false},"axis":{"values":[6,8,10],"labels":false,"title":null}},
  "y":{"field":"y","type":"quantitative","scale":{"domain":[36.6,41.2],"nice":false,"zero":false},"axis":{"values":[37,38,39,40,41],"labels":false,"title":null}}},
 "layer":[
  {"data":{"name":"diag"},"mark":{"type":"line","clip":true,"color":"#333","strokeWidth":0.6},"encoding":{"detail":{"field":"k","type":"nominal"}}},
  {"data":{"name":"cont"},"transform":[{"filter":"datum.p==='MM'"}],"mark":{"type":"line","clip":true,"strokeWidth":1,"interpolate":"cardinal-closed"},"encoding":{"detail":{"field":"g","type":"nominal"},"order":{"value":null},"color":{"field":"s","type":"nominal","scale":{"domain":["b","r"],"range":["#3a9ad9","#e8463a"]},"legend":null}}},
  {"data":{"name":"cnt"},"transform":[{"filter":"datum.p==='MM'"}],"mark":{"type":"text","align":"left","baseline":"middle","fontSize":8.5,"color":"#222"},"encoding":{"x":{"datum":6.2},"y":{"datum":40.35},"text":{"field":"n"}}}
 ]},
{"width":117,"height":121,
 "encoding":{"x":{"field":"x","type":"quantitative","scale":{"domain":[5.5,10.2],"nice":false,"zero":false},"axis":{"values":[6,8,10],"labels":false,"title":null}},
  "y":{"field":"y","type":"quantitative","scale":{"domain":[36.6,41.2],"nice":false,"zero":false},"axis":{"values":[37,38,39,40,41],"labels":false,"title":null}}},
 "layer":[
  {"data":{"name":"diag"},"mark":{"type":"line","clip":true,"color":"#333","strokeWidth":0.6},"encoding":{"detail":{"field":"k","type":"nominal"}}},
  {"data":{"name":"cont"},"transform":[{"filter":"datum.p==='MR'"}],"mark":{"type":"line","clip":true,"strokeWidth":1,"interpolate":"cardinal-closed"},"encoding":{"detail":{"field":"g","type":"nominal"},"order":{"value":null},"color":{"field":"s","type":"nominal","scale":{"domain":["b","r"],"range":["#3a9ad9","#e8463a"]},"legend":null}}},
  {"data":{"name":"cnt"},"transform":[{"filter":"datum.p==='MR'"}],"mark":{"type":"text","align":"left","baseline":"middle","fontSize":8.5,"color":"#222"},"encoding":{"x":{"datum":6.2},"y":{"datum":40.35},"text":{"field":"n"}}}
 ]},
{"width":117,"height":121,
 "encoding":{"x":{"field":"x","type":"quantitative","scale":{"domain":[5.5,10.2],"nice":false,"zero":false},"axis":{"values":[6,8,10],"title":"log Σ∗(all) [M⊙ kpc⁻²]"}},
  "y":{"field":"y","type":"quantitative","scale":{"domain":[36.6,41.2],"nice":false,"zero":false},"axis":{"values":[37,38,39,40,41],"title":["B/T  >  0.4","log ΣHα(all) [erg s⁻¹ kpc⁻²]"]}}},
 "layer":[
  {"data":{"name":"diag"},"mark":{"type":"line","clip":true,"color":"#333","strokeWidth":0.6},"encoding":{"detail":{"field":"k","type":"nominal"}}},
  {"data":{"name":"cont"},"transform":[{"filter":"datum.p==='BL'"}],"mark":{"type":"line","clip":true,"strokeWidth":1,"interpolate":"cardinal-closed"},"encoding":{"detail":{"field":"g","type":"nominal"},"order":{"value":null},"color":{"field":"s","type":"nominal","scale":{"domain":["b","r"],"range":["#3a9ad9","#e8463a"]},"legend":null}}},
  {"data":{"name":"cnt"},"transform":[{"filter":"datum.p==='BL'"}],"mark":{"type":"text","align":"left","baseline":"middle","fontSize":8.5,"color":"#222"},"encoding":{"x":{"datum":6.2},"y":{"datum":40.35},"text":{"field":"n"}}}
 ]},
{"width":117,"height":121,
 "encoding":{"x":{"field":"x","type":"quantitative","scale":{"domain":[5.5,10.2],"nice":false,"zero":false},"axis":{"values":[6,8,10],"title":"log Σ∗(all) [M⊙ kpc⁻²]"}},
  "y":{"field":"y","type":"quantitative","scale":{"domain":[36.6,41.2],"nice":false,"zero":false},"axis":{"values":[37,38,39,40,41],"labels":false,"title":null}}},
 "layer":[
  {"data":{"name":"diag"},"mark":{"type":"line","clip":true,"color":"#333","strokeWidth":0.6},"encoding":{"detail":{"field":"k","type":"nominal"}}},
  {"data":{"name":"cont"},"transform":[{"filter":"datum.p==='BM'"}],"mark":{"type":"line","clip":true,"strokeWidth":1,"interpolate":"cardinal-closed"},"encoding":{"detail":{"field":"g","type":"nominal"},"order":{"value":null},"color":{"field":"s","type":"nominal","scale":{"domain":["b","r"],"range":["#3a9ad9","#e8463a"]},"legend":null}}},
  {"data":{"name":"cnt"},"transform":[{"filter":"datum.p==='BM'"}],"mark":{"type":"text","align":"left","baseline":"middle","fontSize":8.5,"color":"#222"},"encoding":{"x":{"datum":6.2},"y":{"datum":40.35},"text":{"field":"n"}}}
 ]},
{"width":117,"height":121,
 "encoding":{"x":{"field":"x","type":"quantitative","scale":{"domain":[5.5,10.2],"nice":false,"zero":false},"axis":{"values":[6,8,10],"title":"log Σ∗(all) [M⊙ kpc⁻²]"}},
  "y":{"field":"y","type":"quantitative","scale":{"domain":[36.6,41.2],"nice":false,"zero":false},"axis":{"values":[37,38,39,40,41],"labels":false,"title":null}}},
 "layer":[
  {"data":{"name":"diag"},"mark":{"type":"line","clip":true,"color":"#333","strokeWidth":0.6},"encoding":{"detail":{"field":"k","type":"nominal"}}},
  {"data":{"name":"cont"},"transform":[{"filter":"datum.p==='BR'"}],"mark":{"type":"line","clip":true,"strokeWidth":1,"interpolate":"cardinal-closed"},"encoding":{"detail":{"field":"g","type":"nominal"},"order":{"value":null},"color":{"field":"s","type":"nominal","scale":{"domain":["b","r"],"range":["#3a9ad9","#e8463a"]},"legend":null}}},
  {"data":{"name":"cnt"},"transform":[{"filter":"datum.p==='BR'"}],"mark":{"type":"text","align":"left","baseline":"middle","fontSize":8.5,"color":"#222"},"encoding":{"x":{"datum":6.2},"y":{"datum":40.35},"text":{"field":"n"}}}
 ]}
],
"config":{
 "font":"Liberation Sans",
 "background":"white",
 "view":{"stroke":"#2b2b2b","strokeWidth":1.2},
 "axis":{"grid":true,"gridColor":"#e4e4e4","gridWidth":0.8,"ticks":false,"domain":false,"labelFont":"Liberation Sans","labelFontSize":8,"labelColor":"#222","labelPadding":2,"titleFont":"Liberation Sans","titleFontSize":8.5,"titleFontWeight":"normal","titleColor":"#222","titlePadding":3,"titleLineHeight":16},
 "axisX":{"labelPadding":1,"titlePadding":5},
 "title":{"font":"Liberation Sans","fontSize":9,"fontWeight":"normal","color":"#111","offset":8}
}
}
